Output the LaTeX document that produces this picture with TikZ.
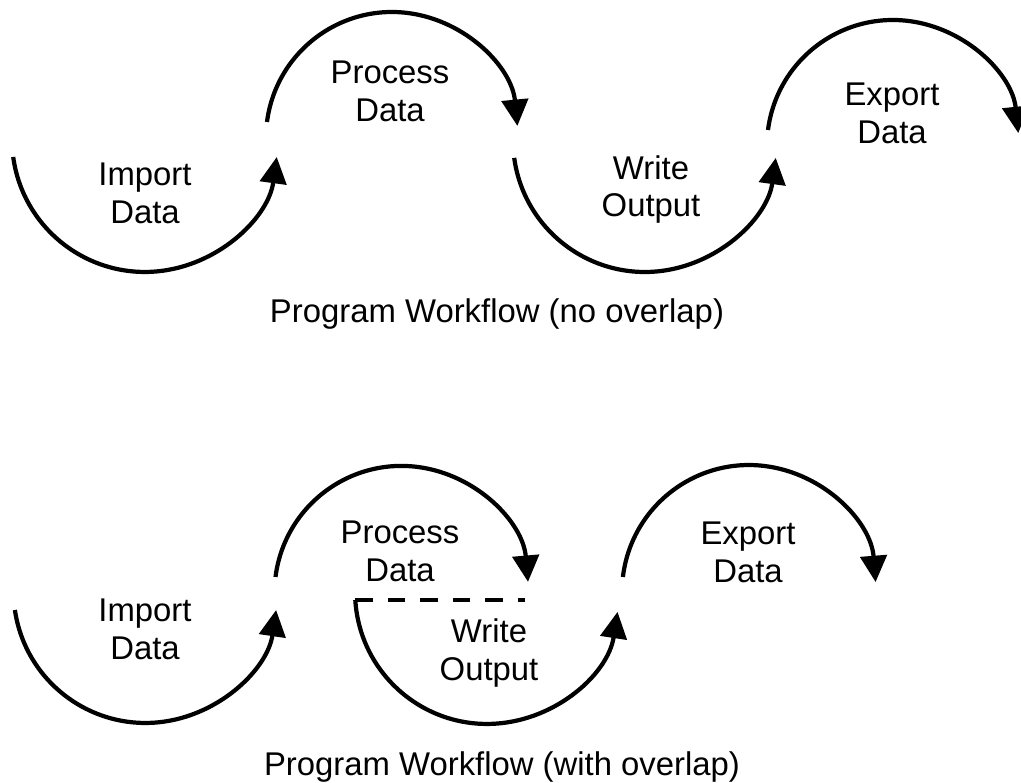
\documentclass[tikz,border=0pt]{standalone}
\usepackage{fontspec}
\setmainfont{Liberation Sans}
\usetikzlibrary{arrows.meta}

\begin{document}
\begin{tikzpicture}[x=0.02cm,y=-0.02cm,
	flow/.style={line width=2.4pt,-{Triangle[length=15pt,width=15pt]}},
	lbl/.style={align=center,font=\fontsize{18.7}{21.5}\selectfont,text depth=0pt,inner sep=0pt},
	overlapline/.style={line width=1.9pt,dash pattern=on 10pt off 8.5pt}]
\useasboundingbox (0,0) rectangle (1021,783);

% no overlap
\coordinate (a1s) at (13.2,157);
\coordinate (a2s) at (267,122);
\coordinate (a3s) at (514.2,157.9);
\coordinate (a4s) at (768,130);
\draw[flow] (a1s) arc[start angle=172.2,end angle=7.8,radius=133];
\draw[flow] (a2s) arc[start angle=187.3,end angle=354.5,radius=126];
\draw[flow] (a3s) arc[start angle=172.2,end angle=7.8,radius=132];
\draw[flow] (a4s) arc[start angle=187.3,end angle=354.1,radius=126];
\node[lbl] (import1) at (145,193.5) {Import\\Data};
\node[lbl] (process1) at (390,91) {Process\\Data};
\node[lbl] (write1) at (651,186) {Write\\Output};
\node[lbl] (export1) at (892,113.5) {Export\\Data};
\node[lbl] (caption1) at (497,311) {Program Workflow (no overlap)};

% with overlap
\coordinate (b1s) at (14.9,610);
\coordinate (b2s) at (275.5,577);
\coordinate (b3s) at (355.3,600);
\coordinate (b4s) at (622.9,577);
\coordinate (b2e) at (525,582);
\draw[flow] (b1s) arc[start angle=171.7,end angle=8.3,radius=132];
\draw[flow] (b2s) arc[start angle=187.2,end angle=355,radius=127];
\draw[flow] (b3s) arc[start angle=176.5,end angle=8.7,radius=132];
\draw[flow] (b4s) arc[start angle=186.8,end angle=355.5,radius=127];
\draw[overlapline] (b3s) -- (b3s -| b2e);
\node[lbl] (import2) at (145,629.5) {Import\\Data};
\node[lbl] (process2) at (400,551.5) {Process\\Data};
\node[lbl] (write2) at (489,649.5) {Write\\Output};
\node[lbl] (export2) at (748,552) {Export\\Data};
\node[lbl] (caption2) at (502,764) {Program Workflow (with overlap)};
\end{tikzpicture}
\end{document}
